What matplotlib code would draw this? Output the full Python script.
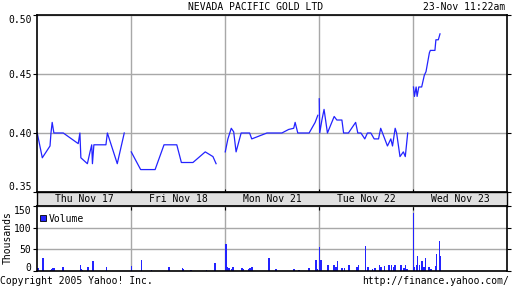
import matplotlib
matplotlib.use('Agg')
import matplotlib.pyplot as plt
from matplotlib.patches import Rectangle

plt.rcParams['font.family'] = ['DejaVu Sans Mono']
plt.rcParams['font.size'] = 7

# 交易日 (9:30 - 16:00 = 390 分钟)
days = ['Thu Nov 17', 'Fri Nov 18', 'Mon Nov 21', 'Tue Nov 22', 'Wed Nov 23']
session = 390.0

# 价格: 开盘后分钟数, 价格
thu_t = [1, 22, 54, 58, 63, 70, 109, 171, 178, 182, 209, 220, 227, 230, 236, 286, 292, 333, 362]
thu_p = [0.40, 0.379, 0.389, 0.40, 0.409, 0.40, 0.40, 0.391, 0.40, 0.379, 0.374, 0.384, 0.39,
         0.374, 0.39, 0.39, 0.40, 0.374, 0.40]
fri_t = [1, 40, 100, 137, 190, 209, 257, 308, 340, 353]
fri_p = [0.384, 0.369, 0.369, 0.39, 0.39, 0.375, 0.375, 0.384, 0.38, 0.374]
mon_t = [1, 12, 26, 36, 46, 67, 102, 111, 174, 236, 264, 285, 291, 302, 349, 374, 385]
mon_p = [0.384, 0.395, 0.404, 0.401, 0.384, 0.40, 0.40, 0.395, 0.40, 0.40, 0.403, 0.404, 0.409,
         0.40, 0.40, 0.409, 0.415]
tue_t = [1, 3, 12, 21, 35, 63, 74, 95, 102, 122, 152, 161, 174, 190, 201, 215, 229, 247, 256,
         284, 298, 305, 316, 322, 336, 350, 358, 368]
tue_p = [0.429, 0.40, 0.411, 0.42, 0.40, 0.414, 0.411, 0.411, 0.40, 0.40, 0.409, 0.40, 0.40,
         0.395, 0.40, 0.40, 0.395, 0.395, 0.404, 0.389, 0.395, 0.389, 0.404, 0.40, 0.38, 0.384,
         0.38, 0.40]
wed_t = [2, 6, 13, 17, 24, 36, 47, 54, 61, 68, 72, 91, 95, 105, 112]
wed_p = [0.439, 0.431, 0.439, 0.431, 0.439, 0.439, 0.449, 0.452, 0.46, 0.468, 0.47, 0.47,
         0.479, 0.479, 0.484]

# 成交量 (千股)
thu_vt = [1, 22, 54, 58, 63, 70, 105, 178, 182, 187, 209, 230, 286]
thu_v = [7.7, 30, 1.5, 4, 7, 7, 8.5, 13, 5.4, 1.5, 8.5, 22, 9]
fri_vt = [0, 41, 83, 155, 210, 213, 246, 310, 346]
fri_v = [11, 24.6, 1.5, 8.5, 7.7, 4, 1.5, 1.5, 17.7]
mon_vt = [1, 5, 13, 26, 30, 67, 75, 96, 100, 109, 179, 208, 283, 304, 345, 374, 378]
mon_v = [61.5, 9, 7, 4, 8.5, 7, 4, 4, 7, 9, 30, 4, 4, 1.5, 7, 24.6, 4]
tue_vt = [0, 5, 34, 59, 67, 75, 92, 104, 121, 154, 162, 189, 201, 218, 230, 247, 255, 268, 288,
          299, 305, 313, 338, 350, 357, 363]
tue_v = [55, 24.6, 13, 13, 8.5, 22, 7, 7, 13, 8.5, 13, 57, 8.5, 4, 7, 13, 8.5, 11, 15, 15, 8.5,
         13, 13, 7, 15, 4]
wed_vt = [0, 4, 13, 17, 25, 34, 42, 50, 63, 71, 91, 95, 108, 112]
wed_v = [133, 8.5, 14.6, 34, 14.6, 22, 9, 30, 8.5, 4, 11, 38.5, 68.5, 34]

price_days = [(thu_t, thu_p), (fri_t, fri_p), (mon_t, mon_p), (tue_t, tue_p), (wed_t, wed_p)]
vol_days = [(thu_vt, thu_v), (fri_vt, fri_v), (mon_vt, mon_v), (tue_vt, tue_v), (wed_vt, wed_v)]

blue = '#2323ff'
grid_c = '#a8a8a8'
W, H = 512, 288

fig = plt.figure(figsize=(5.12, 2.88), dpi=100)
ax = fig.add_axes([37 / W, 1 - 192 / H, 470 / W, 177 / H])
band = fig.add_axes([37 / W, 1 - 206 / H, 470 / W, 14 / H])
axv = fig.add_axes([37 / W, 1 - 271 / H, 470 / W, 65 / H])

# 价格图
for i, (t, p) in enumerate(price_days):
    ax.plot([i + m / session for m in t], p, color=blue, lw=0.9)
ax.set_xlim(0, 5)
ax.set_ylim(0.35, 0.50)
ax.set_yticks([0.35, 0.40, 0.45, 0.50])
ax.set_yticklabels(['0.35', '0.40', '0.45', '0.50'])
ax.set_xticks([1, 2, 3, 4])
ax.set_xticklabels([])
ax.grid(True, color=grid_c, lw=1.0)
ax.set_axisbelow(True)
ax.tick_params(axis='y', direction='out', length=3, width=0.8, pad=1, right=True)
ax.tick_params(axis='x', direction='in', length=2.5, width=0.8, bottom=True)
ax.get_yticklabels()[0].set_va('bottom')
ax.get_yticklabels()[-1].set_va('top')
for s in ax.spines.values():
    s.set_linewidth(1.2)

# 日期栏
band.set_facecolor('#e0e0e0')
band.set_xlim(0, 5)
band.set_ylim(0, 1)
band.set_xticks([])
band.set_yticks([])
for i, d in enumerate(days):
    band.text(i + 0.5, 0.5, d, ha='center', va='center')
for s in band.spines.values():
    s.set_linewidth(1.0)

# 成交量图
for i, (t, v) in enumerate(vol_days):
    axv.bar([i + m / session for m in t], v, width=1.4 / 94, color=blue, lw=0, align='edge')
axv.set_xlim(0, 5)
axv.set_ylim(0, 150)
axv.set_yticks([0, 50, 100, 150])
axv.set_yticklabels(['0', '50', '100', '150'])
axv.set_xticks([1, 2, 3, 4])
axv.set_xticklabels([])
axv.grid(True, color=grid_c, lw=1.0)
axv.set_axisbelow(True)
axv.tick_params(axis='y', direction='out', length=3, width=0.8, pad=1, right=True)
axv.tick_params(axis='x', direction='in', length=3, width=0.8, bottom=False, top=True)
axv.get_yticklabels()[0].set_va('baseline')
axv.get_yticklabels()[-1].set_va('top')
for s in axv.spines.values():
    s.set_linewidth(1.2)
axv.add_patch(Rectangle((3 / 470, 0.774), 6 / 470, 6 / 65, transform=axv.transAxes,
                        facecolor=blue, edgecolor='black', lw=0.6, zorder=5))
axv.text(12 / 470, 0.80, 'Volume', transform=axv.transAxes, va='center', ha='left')

fig.text(8 / W, 1 - 238 / H, 'Thousands', rotation=90, ha='center', va='center')
fig.text(256 / W, 1 - 7 / H, 'NEVADA PACIFIC GOLD LTD', ha='center', va='center')
fig.text(505 / W, 1 - 7 / H, '23-Nov 11:22am', ha='right', va='center')
fig.text(0, 1 - 281 / H, 'Copyright 2005 Yahoo! Inc.', ha='left', va='center')
fig.text(509 / W, 1 - 281 / H, 'http://finance.yahoo.com/', ha='right', va='center')

fig.savefig('out.png', dpi=100)
